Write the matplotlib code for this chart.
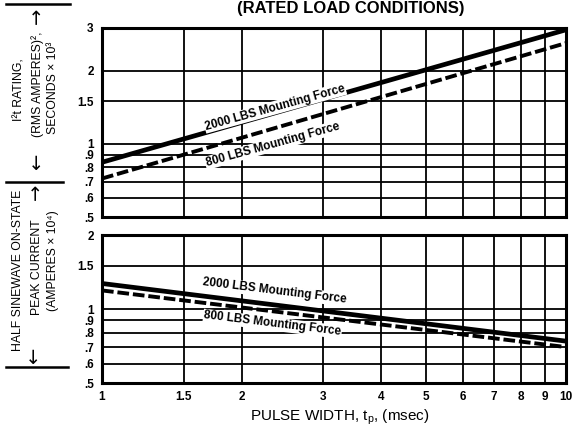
import numpy as np
import matplotlib
matplotlib.use("Agg")
import matplotlib.pyplot as plt
from matplotlib.lines import Line2D

plt.rcParams['font.family'] = ['Liberation Sans', 'DejaVu Sans']

# datos (escala log-log, rectas)
pulse_ms = [1, 10]
i2t_2000 = [0.84, 2.95]
i2t_800 = [0.72, 2.6]
ipk_2000 = [1.27, 0.74]
ipk_800 = [1.19, 0.70]

x_ticks = [1, 1.5, 2, 3, 4, 5, 6, 7, 8, 9, 10]
x_labels = ["1", "1.5", "2", "3", "4", "5", "6", "7", "8", "9", "10"]
top_ticks = [.5, .6, .7, .8, .9, 1, 1.5, 2, 3]
top_labels = [".5", ".6", ".7", ".8", ".9", "1", "1.5", "2", "3"]
bot_ticks = [.5, .6, .7, .8, .9, 1, 1.5, 2]
bot_labels = [".5", ".6", ".7", ".8", ".9", "1", "1.5", "2"]

W, H = 574, 432
fig = plt.figure(figsize=(W / 100, H / 100), dpi=100)


def px(x0, y0, x1, y1):
    return [x0 / W, 1 - y1 / H, (x1 - x0) / W, (y1 - y0) / H]


ax1 = fig.add_axes(px(102, 28, 566, 217))
ax2 = fig.add_axes(px(102, 235, 566, 383))


def style(ax, yt, yl, ylim, show_x):
    ax.set_xscale('log')
    ax.set_yscale('log')
    ax.set_xlim(1, 10)
    ax.set_ylim(*ylim)
    ax.minorticks_off()
    ax.set_xticks(x_ticks)
    ax.set_yticks(yt)
    ax.set_yticklabels(yl, fontsize=8.5, fontweight='bold')
    if show_x:
        ax.set_xticklabels(x_labels, fontsize=8.5, fontweight='bold')
    else:
        ax.set_xticklabels([])
    ax.tick_params(length=0, pad=6)
    ax.grid(True, color='black', lw=1.3)
    for s in ax.spines.values():
        s.set_linewidth(2.2)


style(ax1, top_ticks, top_labels, (0.5, 3), False)
style(ax2, bot_ticks, bot_labels, (0.5, 2), True)

ax1.plot(pulse_ms, i2t_2000, color='black', lw=3.4, solid_capstyle='butt', zorder=3)
ax1.plot(pulse_ms, i2t_800, color='black', lw=2.8, ls=(0, (3, 1)), zorder=3)
ax2.plot(pulse_ms, ipk_2000, color='black', lw=3.4, solid_capstyle='butt', zorder=3)
ax2.plot(pulse_ms, ipk_800, color='black', lw=2.8, ls=(0, (3, 1)), zorder=3)

box = dict(facecolor='white', edgecolor='none', pad=0.5)
lab = dict(fontsize=8.5, fontweight='bold', ha='center', va='center',
           rotation_mode='anchor', bbox=box, zorder=4)
ax1.text(2.36, 1.41, "2000 LBS Mounting Force", rotation=15.5, **lab)
ax1.text(2.33, 0.99, "800 LBS Mounting Force", rotation=15.5, **lab)
ax2.text(2.36, 1.18, "2000 LBS Mounting Force", rotation=-7, **lab)
ax2.text(2.33, 0.87, "800 LBS Mounting Force", rotation=-7, **lab)

fig.text(340 / W, 1 - 417 / H, r"PULSE WIDTH, t$_\mathregular{p}$, (msec)",
         fontsize=11, ha='center', va='center')

fig.text(351 / W, 1 - 13 / H, "(RATED LOAD CONDITIONS)", fontsize=12,
         fontweight='bold', ha='center', va='baseline')


# etiquetas del eje y (texto girado con flechas)
def ftext(x, y, s, **kw):
    fig.text(x / W, 1 - y / H, s, rotation=90, ha='center', va='center', **kw)


ftext(20, 90, "I²t RATING,", fontsize=8.8)
ftext(38, 84, "(RMS AMPERES)²,", fontsize=8.8)
ftext(53, 88, "SECONDS × 10³", fontsize=8.8)
ftext(37, 16, "→", fontsize=14, family='DejaVu Sans')
ftext(37, 162, "←", fontsize=14, family='DejaVu Sans')

ftext(18, 270, "HALF SINEWAVE ON-STATE", fontsize=8.8)
ftext(37, 267, "PEAK CURRENT", fontsize=8.8)
ftext(53, 261, "(AMPERES × 10⁴)", fontsize=8.8)
ftext(36, 192, "→", fontsize=14, family='DejaVu Sans')
ftext(34, 356, "←", fontsize=14, family='DejaVu Sans')

for (xa, xb, yy) in [(6, 70, 4), (6, 63, 182), (6, 68, 367)]:
    fig.add_artist(Line2D([xa / W, xb / W], [1 - yy / H, 1 - yy / H],
                          color='black', lw=1.8, transform=fig.transFigure))

fig.savefig("out.png", dpi=100)
